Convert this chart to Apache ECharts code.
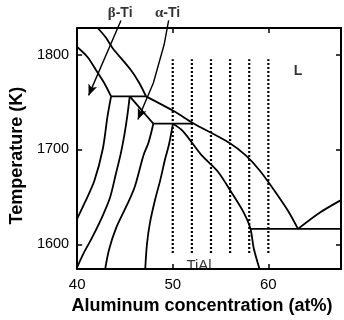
<!DOCTYPE html>
<html>
<head>
<meta charset="utf-8">
<script src="https://cdn.jsdelivr.net/npm/echarts@6/dist/echarts.min.js"></script>
<style>
  html, body { margin: 0; padding: 0; background: #fff; }
  #chart { width: 344px; height: 320px; }
</style>
</head>
<body>
<div id="chart"></div>
<script>
// Ti–Al phase diagram near the TiAl composition.
const X_MIN = 40, X_MAX = 67.6;
const Y_MIN = 1574, Y_MAX = 1828;
const xTicks = [40, 50, 60];
const yTicks = [1600, 1700, 1800];

// [at% Al, K]
const betaLiquidus = [[40, 1808], [41.08, 1797.5], [42.0, 1783.3], [42.83, 1770.1], [43.55, 1756]];
const upperLiquidus = [[42.15, 1828], [43.0, 1818], [43.7, 1807], [45.6, 1784], [46.5, 1770], [47.2, 1756]];
const liquidus = [[47.2, 1756], [50.24, 1739.7], [52.09, 1728], [55.9, 1707.2], [57.61, 1694],
  [59.16, 1677.1], [60.86, 1653.4], [62.07, 1635.2], [63.1, 1616.4]];
const rightLiquidus = [[63.1, 1616.4], [65.33, 1633.2], [67.6, 1646.7]];
const peritectic1 = [[43.55, 1756], [47.2, 1756]];
const peritectic2 = [[47.97, 1727.2], [52.09, 1727.2]];
const eutectic = [[58.13, 1616.4], [67.6, 1616.4]];
const betaSolvus = [[43.55, 1756], [43.17, 1734.6], [42.68, 1700.5], [41.8, 1667], [40.77, 1643.4], [40, 1627]];
const betaAlpha = [[45.5, 1756], [45.25, 1735.7], [44.94, 1715.4], [44.55, 1695.1], [44.06, 1674.8],
  [43.44, 1649.4], [42.62, 1629.1], [41.49, 1605.8], [40.67, 1590.6], [40, 1576]];
const alphaWedge = [[45.5, 1756], [46.7, 1742], [47.97, 1727.2]];
const alphaSolvus = [[47.97, 1727.2], [47.46, 1707.2], [46.94, 1694], [46.02, 1660.5], [45.2, 1641.3],
  [44.06, 1616.9], [43.34, 1594.6], [42.93, 1574]];
const gammaLeft = [[50.03, 1727.2], [49.6, 1705], [49.2, 1690], [48.7, 1668], [48.15, 1647],
  [47.6, 1622], [47.3, 1600], [47.12, 1574]];
const gammaRight = [[50.03, 1727.2], [51.06, 1719.4], [53.01, 1694], [54.69, 1677.1], [56.23, 1653.4],
  [57.44, 1633.2], [58.13, 1616.4], [58.47, 1595.9], [59.08, 1574]];

// dotted sample compositions
const sampleAl = [50, 52, 54, 56, 58, 60];
const sampleT = [1591, 1795];

// pointer arrows from the phase labels
const betaArrow = [[44.58, 1836], [41.2, 1757]];
const alphaArrow = [[49.57, 1836], [49.1, 1810.6], [47.97, 1770], [46.35, 1731.5]];

const labelNames = ['β-Ti', 'α-Ti', 'L', 'TiAl'];
const labelPos = [[44.5, 1844], [49.45, 1844], [63.1, 1783], [52.75, 1577]];

const INK = '#000';
const FONT = '"Liberation Sans", Arial, sans-serif';
const SERIF = '"Liberation Serif", "Times New Roman", serif';

const tickBase = { show: true, inside: true, length: 5, lineStyle: { color: INK, width: 1.5 } };
const lineBase = { show: true, onZero: false, lineStyle: { color: INK, width: 2 } };

const curve = (data, smooth) => ({
  type: 'line', data, smooth: smooth ? 0.3 : false, showSymbol: false, silent: true,
  lineStyle: { color: INK, width: 1.8 },
});

const arrow = (data, rot) => ({
  type: 'line', clip: false, silent: true, symbol: 'none', showSymbol: true,
  lineStyle: { color: INK, width: 1.4 },
  data: data.map((p, i) => i === data.length - 1
    ? { value: p, symbol: 'arrow', symbolSize: [7, 11], symbolRotate: rot, itemStyle: { color: INK } }
    : { value: p }),
});

const series = [
  curve(betaLiquidus, true), curve(upperLiquidus, true), curve(liquidus, true), curve(rightLiquidus, true),
  curve(peritectic1), curve(peritectic2), curve(eutectic),
  curve(betaSolvus, true), curve(betaAlpha, true), curve(alphaWedge, true), curve(alphaSolvus, true),
  curve(gammaLeft, true), curve(gammaRight, true),
  ...sampleAl.map((x) => ({
    type: 'line', data: sampleT.map((t) => [x, t]), showSymbol: false, silent: true,
    lineStyle: { color: INK, width: 2.2, type: [2, 2] },
  })),
  arrow(betaArrow, 158), arrow(alphaArrow, 157),
  {
    type: 'scatter', clip: false, silent: true, symbolSize: 0,
    data: labelNames.map((n, i) => ({ name: n, value: labelPos[i] })),
    label: {
      show: true, position: 'inside', color: INK, fontFamily: FONT, fontSize: 14, fontWeight: 'bold',
      formatter: (p) => p.name.replace('β', '{g|β}').replace('α', '{g|α}'),
      rich: { g: { fontFamily: SERIF, fontSize: 15, fontWeight: 'bold', color: INK } },
    },
  },
];
series[series.length - 1].data[3].label = { color: INK, fontWeight: 500, fontSize: 15 };

const chart = echarts.init(document.getElementById('chart'), null, { renderer: 'canvas' });
chart.setOption({
  animation: false,
  grid: { left: 72, top: 28, width: 269, height: 250, containLabel: false },
  xAxis: [
    {
      type: 'value', min: X_MIN, max: X_MAX, axisLine: lineBase,
      axisTick: { ...tickBase, customValues: xTicks },
      axisLabel: { customValues: xTicks, color: INK, fontSize: 15, fontFamily: FONT, margin: 8,
        formatter: (v) => String(v) },
      splitLine: { show: false },
      name: 'Aluminum concentration (at%)', nameLocation: 'middle', nameGap: 23,
      nameTextStyle: { color: INK, fontSize: 18, fontWeight: 'bold', fontFamily: FONT, padding: [0, 14, 0, 0] },
    },
    {
      type: 'value', position: 'top', min: X_MIN, max: X_MAX, axisLine: lineBase,
      axisTick: { ...tickBase, customValues: xTicks },
      axisLabel: { show: false }, splitLine: { show: false },
    },
  ],
  yAxis: [
    {
      type: 'value', min: Y_MIN, max: Y_MAX, axisLine: lineBase,
      axisTick: { ...tickBase, customValues: yTicks },
      axisLabel: { customValues: yTicks, color: INK, fontSize: 14.5, fontFamily: FONT, margin: 8,
        formatter: (v) => String(v) },
      splitLine: { show: false },
      name: 'Temperature (K)', nameLocation: 'middle', nameGap: 50, nameRotate: 90,
      nameTextStyle: { color: INK, fontSize: 18, fontWeight: 'bold', fontFamily: FONT, padding: [0, 14, 0, 0] },
    },
    {
      type: 'value', position: 'right', min: Y_MIN, max: Y_MAX, axisLine: lineBase,
      axisTick: { ...tickBase, customValues: yTicks },
      axisLabel: { show: false }, splitLine: { show: false },
    },
  ],
  series,
});
</script>
</body>
</html>
